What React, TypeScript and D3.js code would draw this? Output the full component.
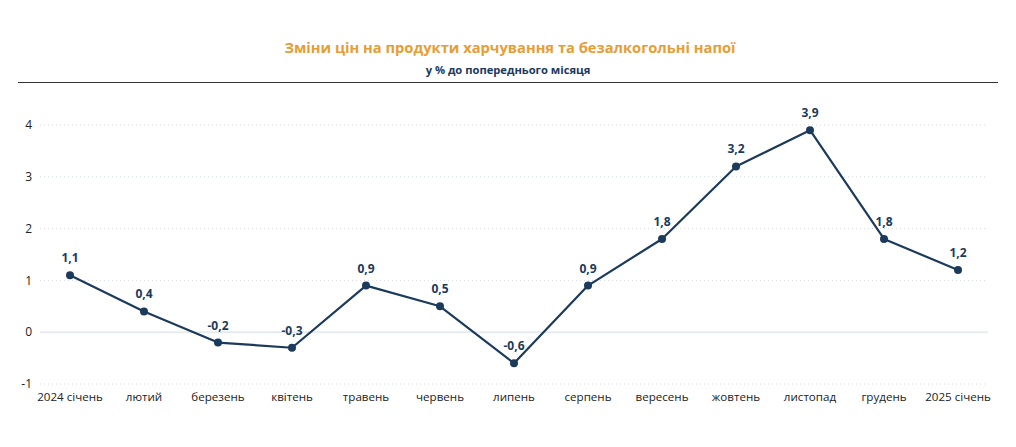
import React from "react";
import * as d3 from "d3";

const categories = ["2024 січень", "лютий", "березень", "квітень", "травень", "червень", "липень", "серпень", "вересень", "жовтень", "листопад", "грудень", "2025 січень"];
const values = [1.1, 0.4, -0.2, -0.3, 0.9, 0.5, -0.6, 0.9, 1.8, 3.2, 3.9, 1.8, 1.2];
const yTicks = [-1, 0, 1, 2, 3, 4];
const title = "Зміни цін на продукти харчування та безалкогольні напої";
const subtitle = "у % до попереднього місяця";

const W = 1016, H = 447;
const FONT = "'Open Sans', 'Noto Sans', sans-serif";
const NAVY = "#1B3A5C";

export default function App() {
  const x = d3.scalePoint<string>().domain(categories).range([70, 958]);
  const y = d3.scaleLinear().domain([-1, 4]).range([384, 125]);
  const line = d3.line<number>().x((_, i) => x(categories[i])!).y((d) => y(d));
  const fmt = (v: number) => v.toFixed(1).replace(".", ",");
  return (
    <svg width={W} height={H} style={{ position: "absolute", left: 0, top: 0, background: "#fff" }} fontFamily={FONT}>
      <text x={510} y={53} textAnchor="middle" fontSize={14.7} fontWeight={700} fill="#E59E35">{title}</text>
      <text x={508} y={74} textAnchor="middle" fontSize={11.2} fontWeight={700} fill={NAVY}>{subtitle}</text>
      <line x1={18} x2={998} y1={82.5} y2={82.5} stroke="#333" strokeWidth={1} />
      {yTicks.map((t) => (
        <g key={t}>
          {t === 0 ? (
            <line x1={40} x2={988} y1={y(t)} y2={y(t)} stroke="#E6EBF0" strokeWidth={2} />
          ) : (
            <line x1={40} x2={988} y1={y(t)} y2={y(t)} stroke="#D5D9DE" strokeWidth={1} strokeDasharray="1 3" />
          )}
          <text x={32} y={y(t)} dy="0.35em" textAnchor="end" fontSize={12} fill="#222">{t}</text>
        </g>
      ))}
      {categories.map((c) => (
        <text key={c} x={x(c)!} y={401} textAnchor="middle" fontSize={11.6} fill="#222">{c}</text>
      ))}
      <path d={line(values)!} fill="none" stroke={NAVY} strokeWidth={2.2} strokeLinejoin="round" />
      {values.map((v, i) => (
        <g key={i}>
          <circle cx={x(categories[i])!} cy={y(v)} r={4} fill={NAVY} />
          <text x={x(categories[i])!} y={y(v) - 13} textAnchor="middle" fontSize={12} fontWeight={700} fill={NAVY}>{fmt(v)}</text>
        </g>
      ))}
    </svg>
  );
}
